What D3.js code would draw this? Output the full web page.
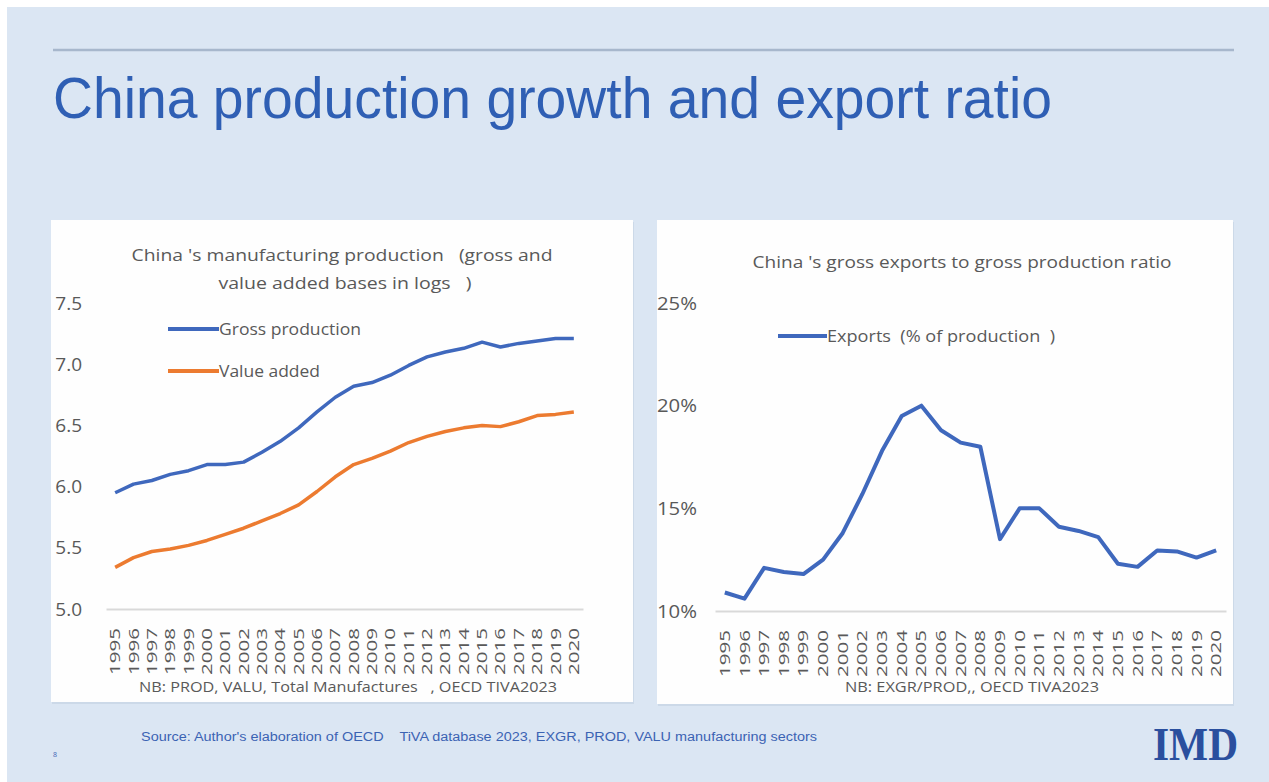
<!DOCTYPE html>
<html>
<head>
<meta charset="utf-8">
<script src="https://cdn.jsdelivr.net/npm/d3@7"></script>
<style>
  html, body { margin: 0; padding: 0; background: #ffffff; }
  svg { display: block; }
  text { font-family: "Open Sans", Roboto, "Noto Sans", sans-serif; white-space: pre; }
</style>
</head>
<body>
<svg id="slide" width="1269" height="782"></svg>
<script>
// data
const years = ['1995','1996','1997','1998','1999','2000','2001','2002','2003','2004','2005','2006','2007','2008','2009','2010','2011','2012','2013','2014','2015','2016','2017','2018','2019','2020'];
const grossProduction = [5.95,6.02,6.05,6.10,6.13,6.18,6.18,6.20,6.28,6.37,6.48,6.61,6.73,6.82,6.85,6.91,6.99,7.06,7.10,7.13,7.18,7.14,7.17,7.19,7.21,7.21];
const valueAdded = [5.34,5.42,5.47,5.49,5.52,5.56,5.61,5.66,5.72,5.78,5.85,5.96,6.08,6.18,6.23,6.29,6.36,6.41,6.45,6.48,6.50,6.49,6.53,6.58,6.59,6.61];
const exportsPct = [10.9,10.6,12.1,11.9,11.8,12.5,13.8,15.7,17.8,19.5,20.0,18.8,18.2,18.0,13.5,15.0,15.0,14.1,13.9,13.6,12.3,12.15,12.95,12.9,12.6,12.95];
const leftTicks = [5.0,5.5,6.0,6.5,7.0,7.5];
const rightTicks = [10,15,20,25];

const blue = '#3f68bd';
const orange = '#ec7b30';
const grey = '#595959';
const arial = '"Liberation Sans", Arial, sans-serif';

const svg = d3.select('#slide');

// slide background
svg.append('rect').attr('x', 0).attr('y', 0).attr('width', 1269).attr('height', 782).attr('fill', '#ffffff');
svg.append('rect').attr('x', 7).attr('y', 7).attr('width', 1262).attr('height', 775).attr('fill', '#dbe6f3');

// header rule + title
svg.append('line')
  .attr('x1', 53).attr('x2', 1234).attr('y1', 50).attr('y2', 50)
  .attr('stroke', '#a7b7cc').attr('stroke-width', 2.5);
svg.append('text')
  .attr('x', 53).attr('y', 118)
  .style('font-family', arial)
  .attr('font-size', 57)
  .attr('fill', '#2f5fb4')
  .attr('textLength', 999).attr('lengthAdjust', 'spacingAndGlyphs')
  .text('China production growth and export ratio');

// white chart panels
[[51, 220, 582, 482], [657, 220, 576, 484]].forEach(p => {
  svg.append('rect')
    .attr('x', p[0] + 1).attr('y', p[1] + 2).attr('width', p[2]).attr('height', p[3])
    .attr('fill', '#ccd9e8');
  svg.append('rect')
    .attr('x', p[0]).attr('y', p[1]).attr('width', p[2]).attr('height', p[3])
    .attr('fill', '#fefefe');
});

function label(g, x, y, str, size, width, color, anchor) {
  const t = g.append('text')
    .attr('x', x).attr('y', y).attr('dy', '0.35em')
    .attr('font-size', size)
    .attr('fill', color || grey)
    .attr('text-anchor', anchor || 'start')
    .text(str);
  if (width) t.attr('textLength', width).attr('lengthAdjust', 'spacingAndGlyphs');
  return t;
}

function drawYearAxis(x, y0) {
  const axis = svg.append('g')
    .attr('transform', `translate(0,${y0})`)
    .call(d3.axisBottom(x).tickSize(0).tickSizeOuter(0));
  axis.select('.domain').attr('stroke', '#d9d9d9').attr('stroke-width', 2);
  axis.selectAll('.tick text')
    .attr('transform', 'rotate(-90)')
    .attr('x', -19).attr('y', 0).attr('dy', '0.36em')
    .attr('text-anchor', 'end')
    .attr('font-size', 14)
    .style('font-family', '"Open Sans", Roboto, sans-serif')
    .attr('fill', grey)
    .attr('textLength', 47).attr('lengthAdjust', 'spacingAndGlyphs');
}

// ---------- left chart ----------
const xL = d3.scaleBand().domain(years).range([106, 583]);
const yL = d3.scaleLinear().domain([5, 7.5]).range([609, 303]);

const yAxisL = svg.append('g')
  .attr('transform', 'translate(82,0)')
  .call(d3.axisLeft(yL).tickValues(leftTicks).tickFormat(d3.format('.1f')).tickSize(0).tickPadding(0));
yAxisL.select('.domain').remove();
yAxisL.selectAll('.tick text')
  .attr('font-size', 19).attr('fill', grey)
  .style('font-family', '"Open Sans", Roboto, sans-serif');

drawYearAxis(xL, 609);

const lineL = d3.line()
  .x((d, i) => xL(years[i]) + xL.bandwidth() / 2)
  .y(d => yL(d));

svg.append('path').datum(valueAdded)
  .attr('d', lineL).attr('fill', 'none')
  .attr('stroke', orange).attr('stroke-width', 3.5).attr('stroke-linejoin', 'round');
svg.append('path').datum(grossProduction)
  .attr('d', lineL).attr('fill', 'none')
  .attr('stroke', blue).attr('stroke-width', 3.5).attr('stroke-linejoin', 'round');

const left = svg.append('g');
label(left, 342, 255, "China 's manufacturing production   (gross and", 17, 421, null, 'middle');
label(left, 345, 283, 'value added bases in logs   )', 17, 253, null, 'middle');

// legend
left.append('line').attr('x1', 168).attr('x2', 219).attr('y1', 329).attr('y2', 329)
  .attr('stroke', blue).attr('stroke-width', 4);
label(left, 219, 329, 'Gross production', 16, 142);
left.append('line').attr('x1', 168).attr('x2', 219).attr('y1', 371).attr('y2', 371)
  .attr('stroke', orange).attr('stroke-width', 4);
label(left, 219, 371, 'Value added', 16, 101);

label(left, 139, 687, 'NB: PROD, VALU, Total Manufactures   , OECD TIVA2023', 15, 418);

// ---------- right chart ----------
const xR = d3.scaleBand().domain(years).range([715, 1226]);
const yR = d3.scaleLinear().domain([10, 25]).range([611, 303]);

const yAxisR = svg.append('g')
  .attr('transform', 'translate(697,0)')
  .call(d3.axisLeft(yR).tickValues(rightTicks).tickFormat(d => d + '%').tickSize(0).tickPadding(0));
yAxisR.select('.domain').remove();
yAxisR.selectAll('.tick text')
  .attr('font-size', 19).attr('fill', grey)
  .style('font-family', '"Open Sans", Roboto, sans-serif')
  .attr('textLength', 40).attr('lengthAdjust', 'spacingAndGlyphs');

drawYearAxis(xR, 611);

const lineR = d3.line()
  .x((d, i) => xR(years[i]) + xR.bandwidth() / 2)
  .y(d => yR(d));

svg.append('path').datum(exportsPct)
  .attr('d', lineR).attr('fill', 'none')
  .attr('stroke', blue).attr('stroke-width', 4).attr('stroke-linejoin', 'round');

const right = svg.append('g');
label(right, 962, 262, "China 's gross exports to gross production ratio", 17, 419, null, 'middle');
right.append('line').attr('x1', 778).attr('x2', 827).attr('y1', 336).attr('y2', 336)
  .attr('stroke', blue).attr('stroke-width', 4);
label(right, 827, 336, 'Exports  (% of production  )', 16, 228);
label(right, 845, 687, 'NB: EXGR/PROD,, OECD TIVA2023', 15, 254);

// ---------- footer ----------
label(svg, 141, 737, "Source: Author's elaboration of OECD    TiVA database 2023, EXGR, PROD, VALU manufacturing sectors", 12, 676, '#3b63b3')
  .style('font-family', arial);
label(svg, 53, 755, '8', 7, null, '#3b63b3');
svg.append('text')
  .attr('x', 1153).attr('y', 760)
  .style('font-family', '"Liberation Serif", "DejaVu Serif", serif')
  .attr('font-weight', 'bold')
  .attr('font-size', 46)
  .attr('fill', '#2a4f9e')
  .attr('textLength', 85).attr('lengthAdjust', 'spacingAndGlyphs')
  .text('IMD');
</script>
</body>
</html>
